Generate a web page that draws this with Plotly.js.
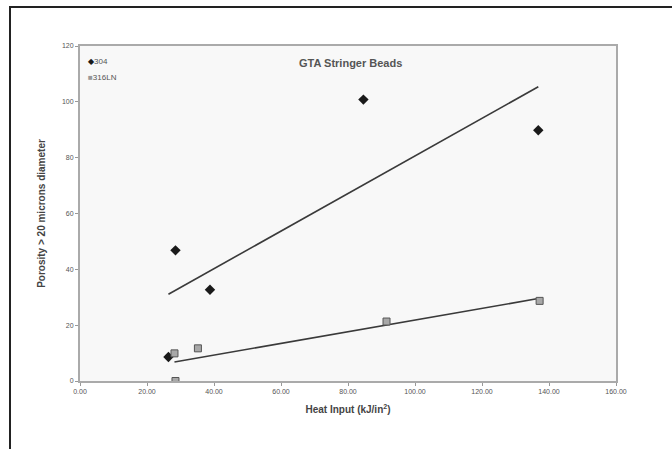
<!DOCTYPE html>
<html>
<head>
<meta charset="utf-8">
<script src="https://cdn.plot.ly/plotly-3.0.1.min.js"></script>
<style>
  html, body { margin: 0; padding: 0; background: #fff; }
  #chart { width: 672px; height: 449px; }
  #frame { position: absolute; left: 9px; top: 6px; width: 663px; height: 443px;
           border-top: 2px solid #222; border-left: 2px solid #222; pointer-events: none; }
</style>
</head>
<body>
<div id="chart"></div>
<div id="frame"></div>
<script>
// Data
const x304 = [26.4, 28.5, 38.8, 84.6, 136.8];
const y304 = [8.6, 46.8, 32.7, 100.8, 89.8];
const x316 = [28.2, 28.5, 35.2, 91.5, 137.2];
const y316 = [9.9, 0.0, 11.7, 21.3, 28.7];
const seriesNames = ["304", "316LN"];
const xTicks = [0, 20, 40, 60, 80, 100, 120, 140, 160];
const xTickLabels = ["0.00", "20.00", "40.00", "60.00", "80.00", "100.00", "120.00", "140.00", "160.00"];
const yTicks = [0, 20, 40, 60, 80, 100, 120];

// Least-squares trend line over each series' x span
function fit(xs, ys) {
  const n = xs.length;
  const mx = xs.reduce((a, b) => a + b, 0) / n;
  const my = ys.reduce((a, b) => a + b, 0) / n;
  let sxy = 0, sxx = 0;
  for (let i = 0; i < n; i++) { sxy += (xs[i] - mx) * (ys[i] - my); sxx += (xs[i] - mx) ** 2; }
  const m = sxy / sxx, b = my - m * mx;
  const x0 = Math.min(...xs), x1 = Math.max(...xs);
  return { x: [x0, x1], y: [m * x0 + b, m * x1 + b] };
}
const t304 = fit(x304, y304);
const t316 = fit(x316, y316);

const font = "Liberation Sans, Arial, sans-serif";
const traces = [
  { x: t304.x, y: t304.y, mode: "lines", line: { color: "#3a3a3a", width: 1.6 }, showlegend: false, hoverinfo: "skip" },
  { x: t316.x, y: t316.y, mode: "lines", line: { color: "#3a3a3a", width: 1.6 }, showlegend: false, hoverinfo: "skip" },
  { x: x304, y: y304, mode: "markers", name: seriesNames[0], showlegend: false,
    marker: { symbol: "diamond", size: 8, color: "#1a1a1a" } },
  { x: x316, y: y316, mode: "markers", name: seriesNames[1], showlegend: false,
    marker: { symbol: "square", size: 7, color: "#a8a8a8", line: { color: "#555", width: 1 } } }
];

const layout = {
  width: 672, height: 449,
  margin: { l: 80, r: 56, t: 46, b: 68 },
  paper_bgcolor: "#ffffff",
  plot_bgcolor: "#f8f8f8",
  font: { family: font, color: "#444" },
  title: { text: "<b>GTA Stringer Beads</b>", font: { size: 11, color: "#555", family: font },
           x: 0.505, xanchor: "center", y: 0.86, yanchor: "middle", xref: "paper", yref: "container" },
  xaxis: {
    range: [0, 160], tickvals: xTicks, ticktext: xTickLabels,
    ticks: "outside", ticklen: 3, tickcolor: "#999", tickfont: { size: 7, color: "#555", family: font },
    showgrid: false, zeroline: false, showline: true, linecolor: "#aaa", linewidth: 2, mirror: true,
    title: { text: "<b>Heat Input (kJ/in<sup>2</sup>)</b>", font: { size: 10, color: "#444" }, standoff: 12 }
  },
  yaxis: {
    range: [0, 120], tickvals: yTicks,
    ticks: "outside", ticklen: 3, tickcolor: "#999", tickfont: { size: 7, color: "#555", family: font },
    showgrid: false, zeroline: false, showline: true, linecolor: "#aaa", linewidth: 2, mirror: true,
    title: { text: "<b>Porosity > 20 microns diameter</b>", font: { size: 10, color: "#444" }, standoff: 14 }
  },
  showlegend: false,
  annotations: [
    { xref: "paper", yref: "paper", x: 0.012, y: 0.955, xanchor: "left", yanchor: "middle", showarrow: false,
      text: "<span style='color:#1a1a1a'>◆</span>" + seriesNames[0], font: { size: 8, color: "#555" } },
    { xref: "paper", yref: "paper", x: 0.012, y: 0.905, xanchor: "left", yanchor: "middle", showarrow: false,
      text: "<span style='color:#999'>■</span>" + seriesNames[1], font: { size: 8, color: "#555" } }
  ]
};

Plotly.newPlot("chart", traces, layout, { displayModeBar: false, staticPlot: true });
</script>
</body>
</html>
